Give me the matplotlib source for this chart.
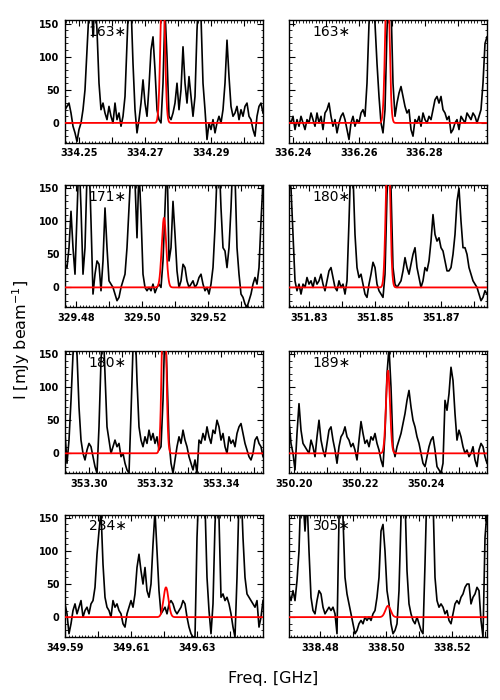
import numpy as np
import matplotlib
matplotlib.use("Agg")
import matplotlib.pyplot as plt
from matplotlib.ticker import FixedLocator, FuncFormatter, MultipleLocator

# panel labels, line centres (GHz) and labelled x ticks
labels = ["163∗", "163∗", "171∗", "180∗", "180∗", "189∗", "234∗", "305∗"]
x_lo = [334.2458, 336.2389, 329.4766, 351.8238, 353.2927, 350.1985, 349.5899, 338.4705]
tick_labels = [
    [334.25, 334.27, 334.29],
    [336.24, 336.26, 336.28],
    [329.48, 329.50, 329.52],
    [351.83, 351.85, 351.87],
    [353.30, 353.32, 353.34],
    [350.20, 350.22, 350.24],
    [349.59, 349.61, 349.63],
    [338.48, 338.50, 338.52],
]

# gaussian fit parameters (centre GHz, peak mJy/beam, sigma GHz)
fit_center = [334.2754, 336.2687, 329.5066, 351.8538, 353.3227, 350.2285, 349.6205, 338.5005]
fit_peak = [240, 240, 105, 240, 300, 125, 45, 17]
fit_sigma = [0.00061, 0.00061, 0.00068, 0.00061, 0.00058, 0.00060, 0.00075, 0.00080]

# observed spectra, 100 channels across each 0.06 GHz window
spec_1 = [20, 25, 30, 15, -5, -15, -28, -10, 0, 20,
          50, 110, 170, 200, 130, 190, 140, 60, 20, 30,
          15, 5, 25, 10, 0, 30, 5, 15, -5, 10,
          40, 120, 200, 180, 90, 20, -15, 5, 30, 65,
          30, 10, 55, 110, 130, 80, 20, 5, 0, 60,
          170, 100, 10, 5, 15, 30, 60, 20, 50, 115,
          60, 30, 70, 40, 10, 40, 140, 200, 160, 60,
          20, -25, 0, -10, 5, -15, 0, 10, 0, 20,
          60, 125, 70, 25, 10, 15, 25, 5, 20, 10,
          25, 30, 10, 5, -10, -20, 10, 25, 30, 15]
spec_2 = [5, 0, 10, -10, 5, -5, 10, 0, -10, 5,
          0, 15, 5, -5, 15, 0, 10, -10, 15, 20,
          30, 10, -5, 5, -15, 0, 10, 15, 5, -10,
          -25, 0, 10, -5, 5, 0, 15, 20, 10, 60,
          150, 200, 190, 150, 90, 40, 0, -15, 20, 140,
          220, 180, 60, 10, 30, 45, 55, 40, 25, 15,
          20, -10, -20, 5, 0, 10, -5, 15, 5, 0,
          10, 5, 20, 35, 40, 30, 40, 20, 15, 5,
          10, -15, -10, 0, 5, -10, 10, 5, 0, 15,
          10, 5, 15, 10, 0, 10, 20, 60, 120, 130]
spec_3 = [35, 30, 60, 115, 60, 20, 110, 200, 120, 20,
          60, 170, 200, 100, -10, 20, 40, 35, -5, 40,
          120, 60, 10, 5, 0, -10, -20, -15, 0, 10,
          20, 60, 120, 180, 200, 160, 75, 180, 110, 20,
          0, -5, 0, -5, 5, -8, 0, 5, 0, 40,
          120, 200, 40, 60, 130, 80, 25, 0, 10, 35,
          30, 10, 0, 5, 10, 0, 5, 15, 20, 5,
          -5, 0, -10, 5, 30, 90, 170, 200, 120, 60,
          55, 30, 60, 120, 200, 170, 60, 20, -10, -15,
          -25, -30, -20, -10, 5, 15, 5, 30, 100, 160]
spec_4 = [170, 150, 80, 10, -5, 5, -10, 5, 0, 15,
          5, 10, 0, 15, 5, 10, 20, 5, -5, 10,
          25, 30, 15, 0, -5, 10, 0, 5, -10, 10,
          100, 200, 170, 80, 30, 15, 20, 5, -10, -15,
          5, 20, 38, 30, 5, -5, -10, -15, 20, 140,
          200, 150, 30, 5, 0, 5, 10, 25, 45, 30,
          20, 35, 50, 60, 30, 15, 0, 10, 30, 25,
          40, 70, 110, 80, 70, 75, 60, 55, 40, 25,
          25, 30, 50, 80, 130, 150, 100, 60, 60, 50,
          30, 20, 10, 5, 0, -10, -20, -15, -5, -10]
spec_5 = [30, -15, 20, 80, 150, 200, 150, 70, 20, 0,
          -10, 5, 15, 10, -5, -20, -30, 40, 140, 200,
          120, 40, 20, 0, 10, 20, 10, 15, -5, 0,
          -15, -25, -30, 60, 160, 200, 110, 40, 20, 10,
          25, 15, 35, 20, 30, 15, 25, 5, 10, 80,
          200, 120, 20, -15, -30, -10, 10, 25, 15, 35,
          20, 10, -5, -15, -25, -10, -30, 20, 15, 30,
          20, 40, 25, 15, 35, 30, 50, 40, 20, 30,
          10, 0, 25, 15, 20, 10, 30, 40, 45, 30,
          15, 5, -5, -10, 0, 20, 25, 15, 10, -5]
spec_6 = [50, 15, 0, -25, 30, 75, 35, 15, 10, 5,
          0, 20, 10, -5, 25, 50, 20, 5, -5, 15,
          35, 40, 20, 5, -15, 10, 25, 30, 40, 25,
          20, 10, 15, 5, -10, 20, 48, 30, 15, 20,
          10, 25, 20, 30, 15, 5, -10, -20, 30, 120,
          160, 100, 10, -5, 10, 20, 30, 45, 60, 80,
          95, 70, 50, 40, 25, 15, 0, -15, -20, -5,
          10, 20, 25, 5, -20, -25, -30, -15, 80, 65,
          90, 130, 110, 60, 20, 35, 25, 10, 0, 5,
          -5, 0, 10, -10, -20, 5, 15, 10, -5, -15]
spec_7 = [20, 5, -25, -10, 10, 20, 5, 15, 25, 0,
          10, 15, 5, 20, 25, 45, 95, 130, 160, 80,
          30, 15, 10, 0, 25, 15, 20, 10, 5, -10,
          -15, 5, 15, 25, 15, 35, 75, 95, 70, 50,
          75, 40, 30, 50, 110, 160, 100, 40, 5, 10,
          15, 5, 20, 25, 20, 10, 5, 10, 15, 25,
          20, 0, -15, -25, -30, -30, 120, 200, 200, 200,
          170, 60, 10, -25, 20, 140, 200, 150, 30, 35,
          25, 30, 20, 5, -15, -30, 60, 180, 200, 120,
          60, 35, 30, 25, 20, 15, 25, -15, 0, 25]
spec_8 = [35, 25, 40, 25, 55, 100, 200, 180, 130, 180,
          100, 30, 10, 5, 25, 40, 35, 15, 5, 10,
          15, 10, 15, 5, -25, 150, 200, 150, 60, 35,
          20, 5, -10, -25, -20, -10, -5, -10, 0, -5,
          0, -5, 5, 10, 30, 60, 130, 140, 100, 40,
          20, -10, -25, -20, -10, 40, 150, 200, 180, 70,
          20, 5, -5, -10, 0, -10, -20, -25, 80, 200,
          200, 200, 180, 60, 25, 15, 20, 15, 5, 10,
          -5, -10, 5, 20, 25, 20, 30, 35, 45, 50,
          50, 20, 30, 35, 45, 40, -5, -30, 120, 160]
spectra = [spec_1, spec_2, spec_3, spec_4, spec_5, spec_6, spec_7, spec_8]

WIDTH = 0.06
YMIN, YMAX = -30, 155

plt.rcParams['font.family'] = 'DejaVu Sans'
fig = plt.figure(figsize=(5, 7), dpi=100)

lefts = [0.130, 0.578]
bottoms = [0.796, 0.561, 0.324, 0.090]
w, h = 0.396, 0.175

for k in range(8):
    row, col = k // 2, k % 2
    ax = fig.add_axes([lefts[col], bottoms[row], w, h])
    lo = x_lo[k]
    hi = lo + WIDTH

    y = np.array(spectra[k])
    x = np.linspace(lo, hi, len(y))
    ax.plot(x, y, color='black', lw=1.2)

    xf = np.linspace(lo, hi, 800)
    model = fit_peak[k] * np.exp(-0.5 * ((xf - fit_center[k]) / fit_sigma[k]) ** 2)
    ax.plot(xf, model, color='red', lw=1.3, zorder=3)

    ax.set_xlim(lo, hi)
    ax.set_ylim(YMIN, YMAX)

    labs = tick_labels[k]
    majors = [labs[0] - 0.01, labs[0], labs[0] + 0.01, labs[1], labs[1] + 0.01, labs[2], labs[2] + 0.01]
    majors = [t for t in majors if lo <= t <= hi]
    ax.xaxis.set_major_locator(FixedLocator(majors))
    ax.xaxis.set_minor_locator(MultipleLocator(0.001))
    ax.xaxis.set_major_formatter(FuncFormatter(
        lambda v, p, labs=labs: ("%.2f" % v) if min(abs(v - t) for t in labs) < 1e-4 else ""))

    ax.yaxis.set_major_locator(FixedLocator([0, 50, 100, 150]))
    ax.yaxis.set_minor_locator(MultipleLocator(10))

    ax.tick_params(which='both', direction='in', top=True, right=True)
    ax.tick_params(which='major', length=4, width=0.8, labelsize=7, pad=4)
    ax.tick_params(which='minor', length=1.8, width=0.6)
    for lab in ax.get_xticklabels() + ax.get_yticklabels():
        lab.set_fontweight('bold')
    if col == 1:
        ax.tick_params(labelleft=False)
    for s in ax.spines.values():
        s.set_linewidth(1.0)

    ax.text(0.12, 0.96, labels[k], transform=ax.transAxes, fontsize=10,
            ha='left', va='top', zorder=1)

fig.text(0.547, 0.030, "Freq. [GHz]", ha='center', va='center', fontsize=11.5)
fig.text(0.042, 0.514, r"I [mJy beam$^{-1}$]", ha='center', va='center',
         rotation=90, fontsize=11.5)

fig.savefig("out.png", dpi=100)
